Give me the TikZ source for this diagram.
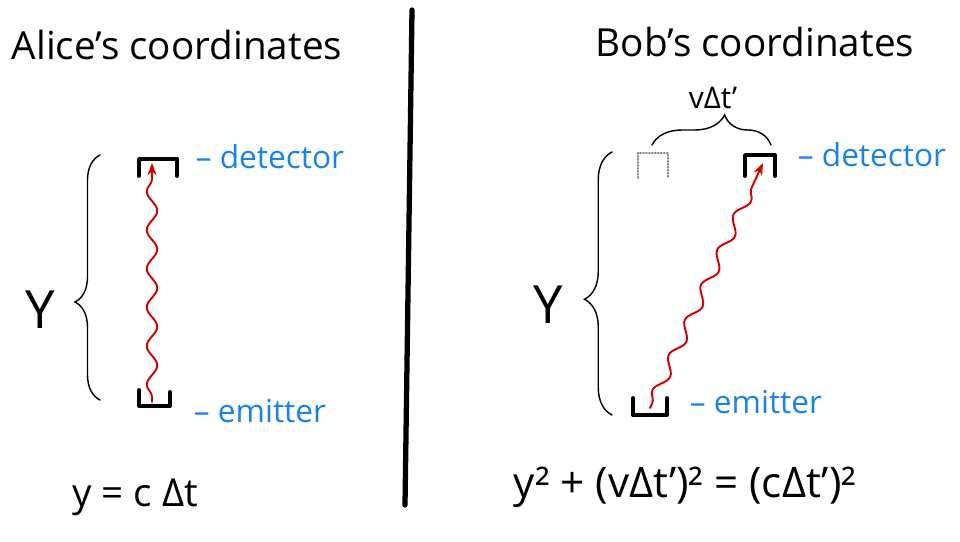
\documentclass[tikz,border=0pt]{standalone}
\usepackage{fontspec}
\setmainfont{Open Sans}
\usetikzlibrary{arrows.meta,decorations.pathmorphing,decorations.pathreplacing}
\definecolor{inkblue}{RGB}{25,130,240}
\definecolor{inkred}{RGB}{215,0,0}
\tikzset{
  cup/.style={line width=2.2pt,line join=round},
  ghostcup/.style={gray,densely dotted,line width=0.7pt},
  photon/.style={inkred,line width=1.1pt,-{Stealth[length=7pt]},decorate,
    decoration={snake,amplitude=3pt,segment length=22pt,pre length=3pt,post length=7pt}},
  tag/.style={inkblue,font=\fontsize{18}{21}\selectfont},
  handtext/.style={font=\fontsize{22}{26}\selectfont},
  bigletter/.style={font=\fontsize{30}{34}\selectfont},
  bigbrace/.style={thick,decorate},
}
\begin{document}
\begin{tikzpicture}[x=0.02cm,y=-0.02cm,line cap=round]
  \useasboundingbox (0,0) rectangle (960,541);
  \draw[line width=3pt] (412,10) -- (405,505);
  % Alice
  \begin{scope}
    \node[handtext] (titleA) at (177,45) {Alice's coordinates};
    \draw[cup] (139,176) |- (177,159) -- (177,176);
    \draw[cup] (139,390) |- (170,406) -- (170,392);
    \coordinate (emA) at (152,402);
    \coordinate (detA) at (152,163);
    \draw[photon] (emA) -- (detA);
    \draw[bigbrace,decoration={brace,amplitude=0.5cm,aspect=0.4}] (100,400) -- (100,155);
    \node[bigletter] (yA) at (40,310) {Y};
    \node[tag] (detlabA) at (270,157) {– detector};
    \node[tag] (emlabA) at (260,411) {– emitter};
    \node[handtext] (eqA) at (135,497) {y = c Δt};
  \end{scope}
  % Bob
  \begin{scope}
    \node[handtext] (titleB) at (755,42) {Bob's coordinates};
    \draw[ghostcup] (638,178) |- (668,153) -- (668,178);
    \draw[cup] (745,176) |- (775,155) -- (775,176);
    \draw[cup] (633,398) |- (667,415) -- (667,398);
    \coordinate (emB) at (650,408);
    \coordinate (detB) at (763,163);
    \draw[photon] (emB) -- (detB);
    \draw[bigbrace,decoration={brace,amplitude=0.6cm,aspect=0.61}] (652,145) -- (771,145);
    \node[font=\fontsize{17}{20}\selectfont] (vdt) at (713,98) {vΔt'};
    \draw[bigbrace,decoration={brace,amplitude=0.55cm,aspect=0.44}] (612,415) -- (612,152);
    \node[bigletter] (yB) at (548,305) {Y};
    \node[tag] (detlabB) at (872,155) {– detector};
    \node[tag] (emlabB) at (756,402) {– emitter};
    \node[font=\fontsize{24}{28}\selectfont] (eqB) at (685,487) {y² + (vΔt')² = (cΔt')²};
  \end{scope}
\end{tikzpicture}
\end{document}
